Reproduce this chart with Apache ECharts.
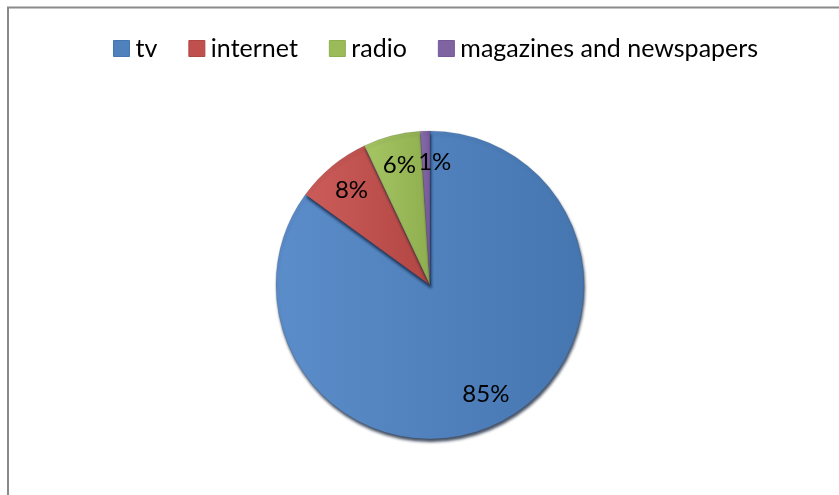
<!DOCTYPE html>
<html>
<head>
<meta charset="utf-8">
<script src="https://cdn.jsdelivr.net/npm/echarts@6/dist/echarts.min.js"></script>
<style>
  html, body { margin: 0; padding: 0; background: #fff; }
  #chart { width: 839px; height: 495px; }
</style>
</head>
<body>
<div id="chart"></div>
<script>
// Media categories and their shares (percent)
const categories = ['tv', 'internet', 'radio', 'magazines and newspapers'];
const shares = [85, 8, 6, 1];
const baseColors = ['#4F81BD', '#C0504D', '#9BBB59', '#8064A2'];
const lightColors = ['#5B8DCA', '#CB5C59', '#A6C664', '#8B70AE'];
const darkColors = ['#4676B0', '#B24643', '#8FAE4F', '#745899'];

const FONT = 'Lato, "Open Sans", sans-serif';
const CX = 430, CY = 285, R = 154;

const sliceData = categories.map((name, i) => ({
  name: name,
  value: shares[i],
  itemStyle: {
    color: {
      type: 'linear', x: 0, y: 0, x2: 1, y2: 0,
      colorStops: [
        { offset: 0, color: lightColors[i] },
        { offset: 1, color: darkColors[i] }
      ]
    }
  }
}));

const labelData = categories.map((name, i) => ({ name: name, value: shares[i] }));

const chart = echarts.init(document.getElementById('chart'), null, { renderer: 'canvas' });

chart.setOption({
  backgroundColor: '#ffffff',
  animation: false,
  color: baseColors,
  graphic: [{
    type: 'rect',
    shape: { x: 8, y: 7.5, width: 900, height: 600 },
    style: { fill: 'none', stroke: '#8a8a8a', lineWidth: 2 },
    silent: true
  }],
  legend: {
    data: categories.map((name, i) => ({
      name: name,
      itemStyle: { color: baseColors[i], borderColor: darkColors[i], borderWidth: 1 }
    })),
    left: 108,
    top: 31,
    itemWidth: 16,
    itemHeight: 16,
    itemGap: 31,
    icon: 'rect',
    textStyle: { fontFamily: FONT, fontSize: 25, color: '#000', padding: [0, 0, 0, 1] },
    selectedMode: false
  },
  series: [
    {
      // the visible pie
      type: 'pie',
      center: [CX, CY],
      radius: [0, R],
      startAngle: 90,
      clockwise: true,
      silent: true,
      label: { show: false },
      labelLine: { show: false },
      itemStyle: {
        borderColor: 'rgba(40,40,60,0.25)',
        borderWidth: 0.6,
        shadowColor: 'rgba(10,25,50,0.75)',
        shadowBlur: 3,
        shadowOffsetX: 1,
        shadowOffsetY: 3
      },
      data: sliceData
    },
    {
      // transparent companion ring that places the percent labels further out
      type: 'pie',
      center: [CX, CY],
      radius: [0, R * 1.56],
      startAngle: 90,
      clockwise: true,
      silent: true,
      avoidLabelOverlap: false,
      minShowLabelAngle: 0,
      z: 3,
      itemStyle: { color: 'rgba(0,0,0,0)' },
      label: {
        show: true,
        position: 'inside',
        formatter: '{c}%',
        fontFamily: FONT,
        fontSize: 24,
        color: '#000',
        overflow: 'none'
      },
      // nudge labels of very thin slices sideways so they clear their neighbour
      labelLayout: function (params) {
        if (shares[params.dataIndex] < 3) {
          return { dx: params.labelRect.width / 2 - 8, hideOverlap: false };
        }
        return { hideOverlap: false };
      },
      labelLine: { show: false },
      data: labelData
    }
  ]
});
</script>
</body>
</html>
